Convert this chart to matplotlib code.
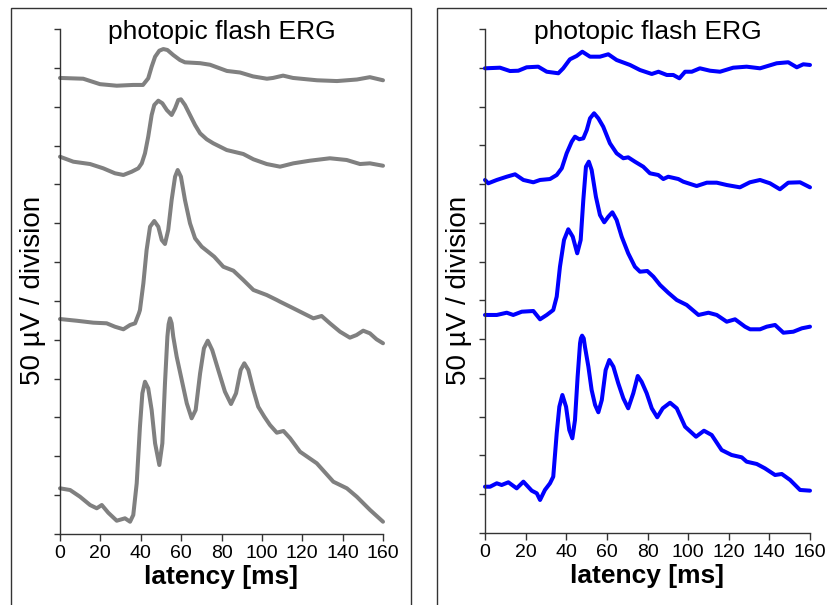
import matplotlib
matplotlib.use("Agg")
import matplotlib.pyplot as plt
from matplotlib.patches import Rectangle

plt.rcParams["font.family"] = ["Liberation Sans", "DejaVu Sans"]

# Latency (ms) and amplitude (uV, stacked with vertical offsets) per trace.
# Left panel: grey traces, top to bottom.
lat_g1 = [0, 11.5, 19.8, 28.1, 36.2, 41.1, 43.7, 45.4, 47.1, 49.2, 51.2, 53.2, 56.1,
          59.4, 61.9, 69.4, 74.3, 82.7, 89.2, 95.6, 102.5, 105.5, 110.5, 115.4, 127.3,
          137.2, 147.1, 153.5, 160]
amp_g1 = [587, 586, 579, 577, 578, 578, 586.5, 601.5, 614.3, 622.1, 624.2, 623.0, 616.5,
          610.1, 607.1, 606, 604, 596, 594, 589, 586, 587, 590, 587, 584,
          583, 585, 588, 584]

lat_g2 = [0, 6.6, 14.9, 21.4, 27.2, 31.4, 35.5, 38.8, 40.5, 42.1, 43.7, 45.4, 46.7,
          48.7, 50.7, 52.9, 55.3, 57.0, 58.6, 59.9, 61.9, 64.4, 66.9, 69.4, 72.7,
          75.9, 82.6, 90.8, 95.8, 102.4, 109.0, 115.6, 123.8, 133.7, 142.0, 148.6,
          153.5, 160]
amp_g2 = [485.6, 479.2, 476.2, 470.7, 464.3, 462.1, 466.3, 470.7, 477.1, 490.0, 511.4,
          539.3, 552.2, 557.7, 554.4, 545.7, 539.3, 547.9, 558.6, 559.5, 552.2, 539.3,
          526.4, 515.7, 508.0, 502.9, 494.2, 489.1, 482.3, 476.2, 472.8, 477.1, 480.5,
          483.6, 481.4, 476.2, 477.1, 474.0]

lat_g3 = [0, 8.3, 16.5, 23.1, 27.2, 31.4, 34.7, 37.2, 39.1, 39.6, 41.3, 42.9, 44.6,
          46.7, 48.7, 50.4, 52.0, 53.6, 55.3, 57.0, 58.3, 59.9, 61.9, 64.4, 66.9,
          70.2, 74.3, 76.4, 80.9, 85.9, 90.8, 95.8, 102.4, 107.4, 109.0, 115.6, 120.5,
          125.5, 129.6, 133.7, 138.7, 143.6, 146.9, 150.2, 153.5, 156.8, 160]
amp_g3 = [276.7, 274.5, 272.0, 271.2, 266.8, 263.5, 269.0, 271.2, 284.1, 288.3, 322.7,
          365.5, 395.5, 402.9, 395.5, 378.4, 373.3, 391.3, 429.9, 459.9, 468.5, 459.9,
          429.9, 399.9, 380.6, 369.8, 361.3, 356.9, 344.0, 338.9, 326.9, 314.1, 307.6,
          301.2, 299.0, 290.5, 284.1, 277.6, 280.6, 271.2, 260.4, 252.7, 256.1, 261.7,
          258.3, 250.6, 245.5]

lat_g4 = [0, 5.0, 9.9, 14.9, 18.2, 20.7, 23.9, 28.1, 32.2, 34.7, 36.3, 38.0, 39.6,
          40.8, 42.1, 43.7, 45.4, 47.1, 49.2, 50.7, 52.0, 53.2, 53.8, 54.5, 55.3, 56.1,
          57.8, 60.3, 62.8, 65.2, 67.2, 69.4, 71.3, 73.2, 75.4, 78.4, 81.7, 84.7, 87.2,
          89.5, 91.3, 93.3, 95.8, 98.2, 101.2, 104.0, 107.4, 110.7, 114.0, 118.9,
          127.2, 135.4, 142.1, 147.0, 153.6, 160]
amp_g4 = [58.8, 56.6, 48.0, 37.3, 33.1, 37.3, 27.4, 17.1, 20.2, 15.8, 24.5, 65.3,
          138.1, 181.1, 196.0, 187.5, 159.6, 116.7, 88.8, 116.7, 194.0, 254.0, 270.0,
          277.6, 271.2, 254.0, 228.2, 198.2, 168.2, 148.9, 159.6, 206.8, 239.0, 248.8,
          236.8, 211.1, 183.2, 167.3, 181.1, 211.1, 219.7, 211.1, 185.3, 163.8, 151.0,
          140.3, 130.4, 132.6, 123.2, 105.9, 91.0, 67.3, 58.8, 48.0, 30.9, 15.8]

# Right panel: blue traces, top to bottom.
lat_b1 = [0, 7.4, 12.3, 16.4, 20.5, 26.2, 30.4, 36.1, 38.5, 41.8, 45.1, 47.9, 51.7,
          56.6, 60.7, 64.8, 71.4, 76.3, 82.1, 85.4, 89.5, 92.7, 95.7, 98.5, 101.8,
          105.8, 110.8, 115.7, 122.2, 128.8, 135.4, 143.6, 149.3, 153.5, 156.7, 160]
amp_b1 = [599.3, 600.1, 595.8, 596.2, 600.6, 601.4, 594.9, 592.9, 599.3, 610.9, 615.2,
          620.7, 614.3, 614.3, 617.4, 610.0, 603.6, 597.1, 592.0, 594.9, 590.7, 590.7,
          586.4, 594.9, 594.9, 599.3, 596.2, 594.9, 600.1, 601.4, 599.3, 605.8, 607.1,
          600.6, 604.5, 603.6]

lat_b2 = [0, 1.6, 5.8, 10.7, 14.8, 18.9, 23.8, 27.1, 32.0, 35.3, 37.8, 40.2, 42.7,
          44.3, 46.4, 48.4, 50.1, 51.7, 53.7, 55.8, 58.2, 61.5, 64.8, 68.1, 70.5,
          73.8, 77.9, 81.2, 85.3, 87.8, 90.2, 95.2, 97.6, 104.2, 109.2, 114.1, 119.0,
          125.5, 130.4, 135.4, 140.3, 145.2, 149.3, 155.1, 160]
amp_b2 = [455.3, 451.0, 455.3, 459.5, 462.6, 455.3, 452.3, 455.3, 456.5, 461.7, 470.4,
          489.7, 504.7, 511.1, 507.8, 509.0, 519.7, 534.8, 541.3, 534.8, 524.0, 502.6,
          489.7, 483.3, 484.5, 478.9, 472.4, 463.9, 461.7, 456.5, 459.5, 456.5, 453.1,
          447.5, 451.8, 451.8, 448.8, 445.8, 452.3, 455.3, 451.0, 443.3, 451.8, 452.3,
          445.8]

lat_b3 = [0, 5.8, 10.7, 13.9, 18.1, 23.8, 27.1, 30.4, 33.6, 35.3, 36.9, 38.9, 41.0,
          43.2, 45.4, 47.1, 48.4, 49.7, 51.1, 52.5, 54.6, 56.6, 58.7, 60.7, 62.7,
          64.8, 67.3, 70.5, 73.8, 76.3, 79.9, 82.9, 86.2, 90.2, 94.4, 99.3, 105.1,
          110.0, 114.1, 119.0, 123.1, 128.0, 130.5, 135.4, 138.7, 142.8, 146.9, 151.8,
          156.0, 160]
amp_b3 = [281.2, 281.2, 284.1, 281.2, 285.4, 286.3, 275.6, 281.2, 287.6, 304.8, 343.4,
          377.9, 391.7, 382.1, 360.7, 377.9, 429.5, 472.4, 478.9, 468.2, 433.7, 410.1,
          400.7, 407.9, 413.6, 403.7, 382.1, 360.7, 343.4, 337.0, 337.9, 330.6, 319.8,
          309.9, 300.5, 294.1, 281.2, 284.1, 281.2, 272.5, 275.6, 266.1, 262.7, 262.7,
          266.1, 268.3, 258.3, 259.6, 264.0, 266.1]

lat_b4 = [0, 2.5, 5.8, 8.2, 11.5, 15.6, 18.9, 23.0, 25.5, 27.1, 29.5, 32.0, 33.6,
          35.3, 36.6, 38.1, 39.9, 41.5, 43.0, 44.3, 45.6, 46.8, 47.2, 47.8, 48.6, 49.2,
          50.9, 52.5, 54.2, 55.8, 57.5, 59.4, 61.2, 63.2, 65.6, 68.1, 70.5, 73.0, 75.2,
          77.1, 79.6, 82.1, 84.8, 87.5, 91.1, 94.4, 98.5, 103.9, 107.8, 111.6, 116.5,
          121.4, 126.4, 128.8, 133.8, 137.8, 142.8, 146.1, 150.2, 155.1, 160]
amp_b4 = [59.7, 59.7, 64.1, 61.9, 65.4, 57.6, 66.2, 54.6, 51.2, 42.6, 55.5, 64.1,
          72.6, 128.6, 162.9, 178.0, 162.9, 132.8, 122.1, 145.7, 201.6, 244.7, 251.0,
          254.5, 251.0, 240.3, 214.5, 184.4, 165.1, 155.7, 171.5, 210.2, 223.1, 214.5,
          193.1, 173.7, 160.8, 180.2, 202.5, 195.1, 180.2, 160.8, 149.2, 160.8, 168.0,
          160.8, 137.1, 124.2, 131.9, 126.4, 107.0, 100.6, 97.6, 92.0, 89.0, 83.4, 74.8,
          76.1, 68.4, 55.5, 54.6]

x_ticks = [0, 20, 40, 60, 80, 100, 120, 140, 160]
uv_per_div = 50
n_div = 13
title = "photopic flash ERG"
y_label = "50 µV / division"
x_label = "latency [ms]"

grey_traces = [(lat_g1, amp_g1), (lat_g2, amp_g2), (lat_g3, amp_g3), (lat_g4, amp_g4)]
blue_traces = [(lat_b1, amp_b1), (lat_b2, amp_b2), (lat_b3, amp_b3), (lat_b4, amp_b4)]

fig = plt.figure(figsize=(8.28, 6.05), dpi=100)

# Panel frames drawn around each half of the figure
W, H = 828, 605
for x0, x1 in [(11, 411), (437, 840)]:
    fig.patches.append(Rectangle((x0 / W, -0.05), (x1 - x0) / W, (H - 8) / H + 0.05,
                                 transform=fig.transFigure, fill=False,
                                 edgecolor="#333333", linewidth=1.0))

panels = [
    ([60 / W, 71 / H, 323 / W, 505 / H], grey_traces, "#808080", 33 / W),
    ([485 / W, 72 / H, 325 / W, 504 / H], blue_traces, "#0000ff", 459 / W),
]

for rect, traces, color, ylab_x in panels:
    ax = fig.add_axes(rect)
    for lat, amp in traces:
        ax.plot(lat, amp, color=color, linewidth=2.9,
                solid_joinstyle="round", solid_capstyle="round", clip_on=False)
    ax.set_xlim(0, 160)
    ax.set_ylim(0, n_div * uv_per_div)
    ax.set_xticks(x_ticks)
    ax.set_yticks([i * uv_per_div for i in range(n_div + 1)])
    ax.set_yticklabels([])
    ax.tick_params(axis="x", direction="out", length=5, width=1, labelsize=14,
                   color="#333333", pad=3)
    ax.tick_params(axis="y", direction="out", length=4, width=1, color="#333333")
    for side in ["top", "right"]:
        ax.spines[side].set_visible(False)
    for side in ["left", "bottom"]:
        ax.spines[side].set_color("#333333")
        ax.spines[side].set_linewidth(1)
    ax.set_xlabel(x_label, fontsize=19, fontweight="bold", labelpad=2)
    ax.text(0.5, 0.995, title, transform=ax.transAxes, ha="center", va="center",
            fontsize=19)
    fig.text(ylab_x, 0.52, y_label, rotation=90, ha="center", va="center",
             fontsize=20)

fig.savefig("out.png", dpi=100)
